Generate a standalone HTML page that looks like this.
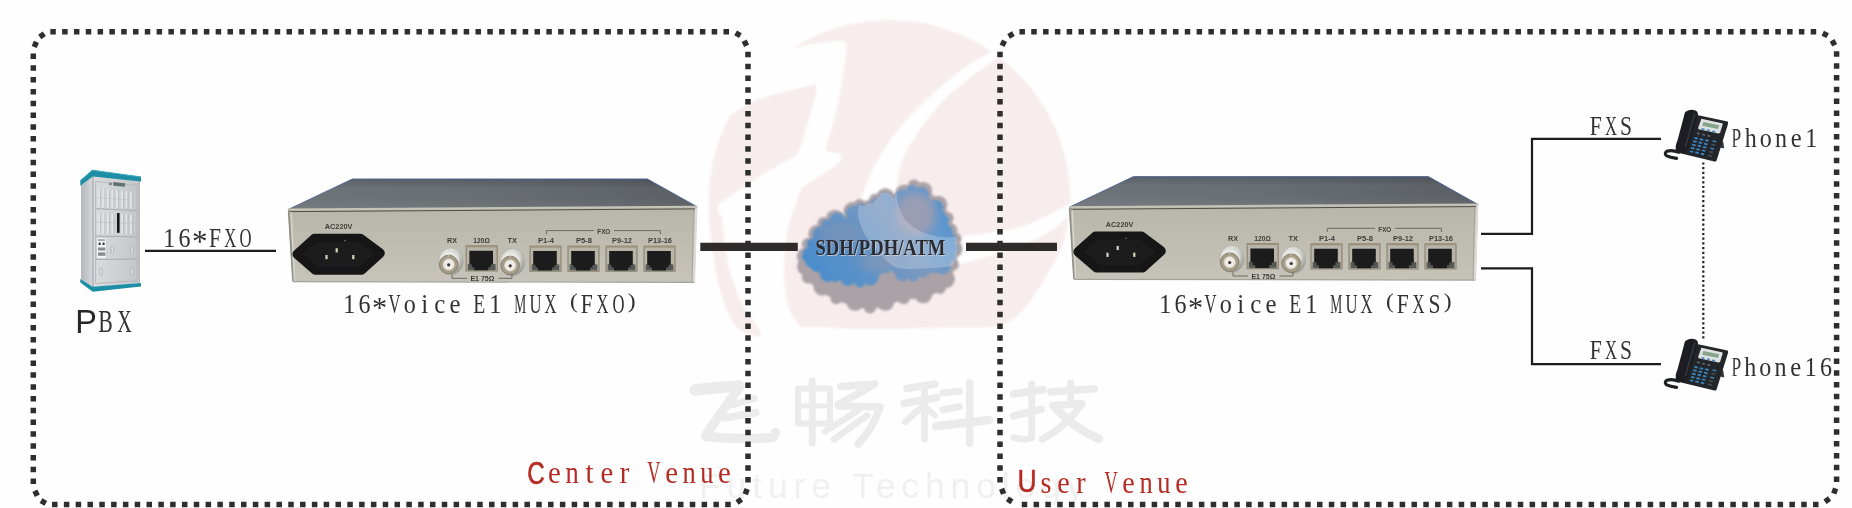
<!DOCTYPE html>
<html><head><meta charset="utf-8"><title>16*Voice E1 MUX</title>
<style>
html,body{margin:0;padding:0;background:#fefefe;overflow:hidden}
svg{display:block}
text{font-family:"Liberation Serif",serif}
</style></head><body>
<svg width="1852" height="508" viewBox="0 0 1852 508">
<rect width="1852" height="508" fill="#fefefe"/>
<defs><filter id="soft" x="-5%" y="-20%" width="110%" height="140%"><feGaussianBlur stdDeviation="0.35"/></filter><filter id="wmblur" x="-5%" y="-5%" width="110%" height="110%"><feGaussianBlur stdDeviation="1.0"/></filter><filter id="b08g" x="-5%" y="-10%" width="110%" height="120%"><feGaussianBlur stdDeviation="0.7"/></filter></defs>
<g filter="url(#wmblur)"><path d="M708.5 201A181 181 0 0 1 889.5 20A181 181 0 0 1 1070.5 201C1069.4 207.7 1068.0 228.5 1064.0 241.0C1060.0 253.5 1053.5 264.2 1046.4 276.0C1039.3 287.8 1029.8 303.3 1021.6 311.6C1013.4 319.9 1008.9 323.4 997.0 326.0C985.1 328.6 972.3 327.0 950.0 327.5C927.7 328.0 888.0 329.1 863.0 329.0C838.0 328.9 816.3 325.7 800.0 327.0C783.7 328.3 775.3 336.7 765.0 337.0C754.7 337.3 744.9 333.6 738.4 328.8C731.9 324.0 729.6 316.4 726.0 308.0C722.4 299.6 719.3 288.4 717.0 278.6C714.7 268.8 713.8 258.9 712.4 249.0C711.0 239.2 709.5 227.5 708.9 219.5C708.2 211.5 708.6 204.1 708.5 201.0Z" fill="#f8eded"/><path d="M793.0 48.0C800.0 46.6 813.9 43.7 820.0 43.0C826.1 42.3 842.1 39.3 845.0 41.6C847.9 43.9 845.7 56.4 845.0 63.0C844.3 69.6 840.5 90.4 839.0 98.0C837.5 105.6 833.6 121.9 832.0 128.0C830.4 134.1 824.5 147.0 825.5 150.0C826.5 153.0 839.1 152.5 840.7 154.0C842.3 155.5 841.8 160.2 839.0 163.0C836.2 165.8 821.3 175.1 817.0 178.0C812.7 180.9 804.3 185.6 802.0 188.0C799.7 190.4 799.1 194.6 797.5 199.0C795.9 203.4 790.1 219.6 788.6 225.4C787.1 231.2 785.5 242.8 785.0 249.0C784.5 255.2 783.8 271.7 784.2 278.6C784.6 285.5 786.7 302.3 788.6 308.0C790.5 313.7 798.7 323.8 800.4 327.3C802.1 330.8 807.1 336.8 803.0 338.0C798.9 339.2 770.1 339.1 765.0 338.0C759.9 336.9 761.8 333.0 759.0 328.8C756.2 324.6 744.4 307.9 741.3 302.0C738.2 296.1 734.1 283.0 732.5 278.6C730.9 274.2 729.0 269.2 728.0 264.0C727.0 258.8 724.3 239.4 723.6 234.0C722.9 228.6 722.7 220.6 722.0 218.0C721.3 215.4 718.4 213.4 718.0 212.0C717.6 210.6 718.6 207.2 719.0 206.0C719.4 204.8 716.2 205.8 721.6 202.0C727.0 198.2 756.2 178.6 765.0 173.0C773.8 167.4 792.2 159.2 797.0 154.0C801.8 148.8 804.2 133.5 806.0 128.0C807.8 122.5 811.3 111.6 812.5 106.6C813.7 101.6 819.0 86.8 816.0 85.0C813.0 83.2 793.6 89.7 786.6 91.4C779.6 93.2 763.4 97.0 756.3 100.0C749.2 103.0 731.9 114.8 726.0 117.4C720.1 120.0 706.7 125.0 706.0 122.0C705.3 119.0 713.7 99.8 720.0 92.0C726.3 84.2 751.5 60.1 760.0 55.0C768.5 49.9 786.0 49.4 793.0 48.0Z" fill="#fefefe"/><path d="M1001.0 47.0C994.0 50.5 976.9 59.0 965.6 67.0C954.4 75.0 936.6 90.0 926.0 100.0C915.4 110.0 902.4 124.2 894.7 134.0C887.1 143.8 879.8 156.2 875.0 165.0C870.2 173.8 865.5 185.7 863.0 193.0C860.5 200.3 857.7 207.7 858.0 214.0C858.3 220.3 861.9 229.2 865.0 235.0C868.1 240.8 874.2 247.8 879.0 252.7C883.8 257.6 889.8 265.0 896.7 267.4C903.6 269.8 916.1 268.9 925.0 268.5C933.9 268.1 942.3 268.1 955.7 265.0C969.1 261.9 1001.0 252.7 1014.6 248.0C1028.2 243.3 1038.2 238.5 1046.4 233.7C1054.6 228.9 1063.8 220.5 1069.4 216.0C1075.0 211.5 1083.8 205.9 1084.0 204.0C1084.2 202.1 1080.4 200.2 1071.0 203.6C1061.6 207.0 1038.9 221.7 1021.6 226.7C1004.3 231.7 970.0 236.0 955.7 237.0C941.4 238.0 933.5 236.1 926.0 233.5C918.5 230.9 909.9 225.5 905.5 220.0C901.1 214.5 897.4 204.8 896.7 196.6C896.0 188.3 897.9 173.8 900.6 165.0C903.3 156.2 908.2 147.4 914.4 138.0C920.6 128.6 933.1 111.5 942.0 102.0C950.9 92.5 964.0 82.3 973.5 75.0C983.0 67.7 999.2 57.6 1005.0 53.0C1010.8 48.4 1012.6 44.9 1012.0 44.0C1011.4 43.1 1008.0 43.5 1001.0 47.0Z" fill="#fefefe"/></g>
<text x="699" y="497.6" font-size="35.6" letter-spacing="5.85" style="font-family:'Liberation Sans',sans-serif" fill="#f0f0f0" filter="url(#soft)">Future Technology</text>
<g fill="none" stroke="#ebebeb" stroke-linecap="round" stroke-linejoin="round" filter="url(#b08g)"><path d="M695 390Q716 387.5 739 386" stroke-width="11.5"/><path d="M739 388Q722 411 706 435" stroke-width="9.5"/><path d="M706 436.5Q740 440 773 437.5L775.5 432.5" stroke-width="9.5"/><path d="M732 405L754 398.5" stroke-width="7"/><path d="M725 418L756 412.5" stroke-width="7.5"/><path d="M812.3 381V443" stroke-width="7"/><path d="M798 388.5H830V423.5H798Z" stroke-width="6"/><path d="M798 406H830" stroke-width="5"/><path d="M841 386.5L875 384Q858 394 838 404.5" stroke-width="7.5"/><path d="M839 406L880 407Q873 429 858 444" stroke-width="7.5"/><path d="M858 410.5L825 431.5" stroke-width="6.5"/><path d="M867 415.5L834 439.5" stroke-width="6.5"/><path d="M935 384L907 388.5" stroke-width="7.5"/><path d="M904 403.5L937 397.5" stroke-width="7.5"/><path d="M924.5 389V439" stroke-width="7"/><path d="M923 406L905 422" stroke-width="6.5"/><path d="M927 408.5L935 415.5" stroke-width="6"/><path d="M943 393L959.5 391.3" stroke-width="7"/><path d="M943 409.8L959.5 406.6" stroke-width="7"/><path d="M936 426.3L989 420" stroke-width="8.5"/><path d="M969.7 383V443.5" stroke-width="7.5"/><path d="M1013.5 394L1043 389.8" stroke-width="7.5"/><path d="M1031.7 384V437.5Q1026 441 1014 437.5" stroke-width="7"/><path d="M1013.5 415.8L1041 409.3" stroke-width="7.5"/><path d="M1051 392L1094 388.7" stroke-width="7.5"/><path d="M1070.7 383V399.5" stroke-width="7"/><path d="M1053 405.5L1082 403.6Q1066 427 1042.5 439" stroke-width="7.5"/><path d="M1056 408.5Q1074 428 1099 439" stroke-width="8.5"/></g>
<defs>
<linearGradient id="muxTop" x1="0" y1="0" x2="1" y2="0">
 <stop offset="0" stop-color="#6f757a"/><stop offset="0.5" stop-color="#686e73"/><stop offset="1" stop-color="#5b6065"/>
</linearGradient>
<linearGradient id="muxTopV" x1="0" y1="0" x2="0" y2="1">
 <stop offset="0" stop-color="#1b2a4a" stop-opacity="0.22"/><stop offset="0.3" stop-color="#000" stop-opacity="0"/><stop offset="1" stop-color="#fff" stop-opacity="0.06"/>
</linearGradient>
<linearGradient id="muxFront" x1="0" y1="0" x2="0" y2="1">
 <stop offset="0" stop-color="#b8b6aa"/><stop offset="0.5" stop-color="#bfbdb2"/><stop offset="1" stop-color="#c6c4ba"/>
</linearGradient>
<radialGradient id="bnc" cx="0.4" cy="0.35" r="0.7">
 <stop offset="0" stop-color="#f4f4f2"/><stop offset="0.6" stop-color="#cfcfcb"/><stop offset="1" stop-color="#8e8e88"/>
</radialGradient>
<linearGradient id="rjf" x1="0" y1="0" x2="0" y2="1">
 <stop offset="0" stop-color="#b2ab9a"/><stop offset="1" stop-color="#c9c3b4"/>
</linearGradient>
<filter id="b05" x="-10%" y="-10%" width="120%" height="120%"><feGaussianBlur stdDeviation="0.5"/></filter>
<filter id="b08" x="-10%" y="-10%" width="120%" height="120%"><feGaussianBlur stdDeviation="0.8"/></filter>
<filter id="b2" x="-20%" y="-20%" width="140%" height="140%"><feGaussianBlur stdDeviation="2"/></filter>
</defs>
<g transform="translate(0,0)" filter="url(#b05)"><path d="M352.4 178.9H647.4L697.2 206.8L288 209.6Z" fill="url(#muxTop)"/><path d="M352.4 178.9H647.4L697.2 206.8L288 209.6Z" fill="url(#muxTopV)"/><path d="M288 209.6L352.4 178.9H647.4L697.2 206.8" fill="none" stroke="#3c5590" stroke-width="1" opacity="0.7"/><path d="M288 209.2L697.2 206.4L694.6 282.2L292.6 281.4Z" fill="url(#muxFront)"/><path d="M288 209.5L697.2 206.7" stroke="#c6c4b8" stroke-width="2.0" fill="none"/><path d="M290 211.6L696 208.9" stroke="#4e4d45" stroke-width="1" fill="none"/><path d="M288.6 210L293 281.4" stroke="#8f8e86" stroke-width="1.6" fill="none"/><path d="M291.2 212L294.6 281" stroke="#d8d6cc" stroke-width="1.4" fill="none"/><path d="M696.2 208L694 282" stroke="#dddbd2" stroke-width="2.2" fill="none"/><path d="M693.6 210L692 281" stroke="#a9a79e" stroke-width="1" fill="none"/><path d="M293 281.6L694.4 282.4" stroke="#a3a198" stroke-width="1.2" fill="none"/><path d="M297.2 254.2L314.5 238.6H360.5L380 253.2L361.5 270H315.5Z" fill="#161718" stroke="#161718" stroke-width="9.6" stroke-linejoin="round"/><path d="M303 254L318 241.5H358L374.5 253.4L358 267.5H319Z" fill="#1b1c1e"/><rect x="335.6" y="248.2" width="2.2" height="4.2" fill="#d8d4c4"/><rect x="325.4" y="255" width="2.2" height="4.2" fill="#d8d4c4"/><rect x="352.2" y="255" width="2.2" height="4.2" fill="#d8d4c4"/><circle cx="345" cy="240.6" r="0.8" fill="#8a7a60"/><text x="338.6" y="229.46" text-anchor="middle" font-size="7.4" font-weight="bold" style="font-family:'Liberation Sans',sans-serif" fill="#3c3c3a" textLength="27.5" lengthAdjust="spacingAndGlyphs">AC220V</text><ellipse cx="450.9" cy="261.3" rx="12.4" ry="13.6" fill="url(#bnc)" stroke="#b4b4ae" stroke-width="0.8"/><ellipse cx="449.3" cy="259.5" rx="9.5" ry="7.5" fill="#e9e9e6" opacity="0.7"/><circle cx="448.7" cy="264.5" r="9.3" fill="#a69d89" stroke="#857c6a" stroke-width="1"/><circle cx="448.7" cy="264.5" r="5.7" fill="#eeeae6" stroke="#cfc6b8" stroke-width="0.8"/><circle cx="448.7" cy="264.8" r="1.6" fill="#3b3131"/><circle cx="448.7" cy="255.7" r="1.1" fill="#bdb5a3"/><rect x="466.2" y="245.9" width="31" height="25" fill="#b9b4a8" stroke="#8f8672" stroke-width="1.2"/><path d="M466.2 246.5H497.2" stroke="#9c927c" stroke-width="1.6"/><rect x="467.8" y="264.1" width="27.8" height="6" fill="#565955"/><path d="M469.4 250.8H493.0V264.6H490.59999999999997V267.3H488.2V270.3H474.2V267.3H471.8V264.6H469.4Z" fill="#1b1f1c"/><ellipse cx="512.4" cy="262.3" rx="12.4" ry="13.6" fill="url(#bnc)" stroke="#b4b4ae" stroke-width="0.8"/><ellipse cx="510.8" cy="260.5" rx="9.5" ry="7.5" fill="#e9e9e6" opacity="0.7"/><circle cx="510.2" cy="265.5" r="9.3" fill="#a69d89" stroke="#857c6a" stroke-width="1"/><circle cx="510.2" cy="265.5" r="5.7" fill="#eeeae6" stroke="#cfc6b8" stroke-width="0.8"/><circle cx="510.2" cy="265.8" r="1.6" fill="#3b3131"/><circle cx="510.2" cy="256.7" r="1.1" fill="#bdb5a3"/><rect x="530" y="246.2" width="31" height="25" fill="#b9b4a8" stroke="#8f8672" stroke-width="1.2"/><path d="M530 246.79999999999998H561" stroke="#9c927c" stroke-width="1.6"/><rect x="531.6" y="264.4" width="27.8" height="6" fill="#565955"/><path d="M533.2 251.1H556.8V264.9H554.4V267.59999999999997H552V270.59999999999997H538V267.59999999999997H535.6V264.9H533.2Z" fill="#1b1f1c"/><rect x="568" y="246.2" width="31" height="25" fill="#b9b4a8" stroke="#8f8672" stroke-width="1.2"/><path d="M568 246.79999999999998H599" stroke="#9c927c" stroke-width="1.6"/><rect x="569.6" y="264.4" width="27.8" height="6" fill="#565955"/><path d="M571.2 251.1H594.8V264.9H592.4V267.59999999999997H590V270.59999999999997H576V267.59999999999997H573.6V264.9H571.2Z" fill="#1b1f1c"/><rect x="606" y="246.2" width="31" height="25" fill="#b9b4a8" stroke="#8f8672" stroke-width="1.2"/><path d="M606 246.79999999999998H637" stroke="#9c927c" stroke-width="1.6"/><rect x="607.6" y="264.4" width="27.8" height="6" fill="#565955"/><path d="M609.2 251.1H632.8V264.9H630.4V267.59999999999997H628V270.59999999999997H614V267.59999999999997H611.6V264.9H609.2Z" fill="#1b1f1c"/><rect x="644" y="246.2" width="31" height="25" fill="#b9b4a8" stroke="#8f8672" stroke-width="1.2"/><path d="M644 246.79999999999998H675" stroke="#9c927c" stroke-width="1.6"/><rect x="645.6" y="264.4" width="27.8" height="6" fill="#565955"/><path d="M647.2 251.1H670.8V264.9H668.4V267.59999999999997H666V270.59999999999997H652V267.59999999999997H649.6V264.9H647.2Z" fill="#1b1f1c"/><text x="452" y="243.05" text-anchor="middle" font-size="6.8" font-weight="bold" style="font-family:'Liberation Sans',sans-serif" fill="#3c3c3a" textLength="10" lengthAdjust="spacingAndGlyphs">RX</text><text x="481.5" y="243.05" text-anchor="middle" font-size="6.8" font-weight="bold" style="font-family:'Liberation Sans',sans-serif" fill="#3c3c3a" textLength="16.5" lengthAdjust="spacingAndGlyphs">120Ω</text><text x="512.3" y="243.05" text-anchor="middle" font-size="6.8" font-weight="bold" style="font-family:'Liberation Sans',sans-serif" fill="#3c3c3a" textLength="9.5" lengthAdjust="spacingAndGlyphs">TX</text><text x="546" y="243.45" text-anchor="middle" font-size="6.8" font-weight="bold" style="font-family:'Liberation Sans',sans-serif" fill="#3c3c3a" textLength="16" lengthAdjust="spacingAndGlyphs">P1-4</text><text x="584" y="243.45" text-anchor="middle" font-size="6.8" font-weight="bold" style="font-family:'Liberation Sans',sans-serif" fill="#3c3c3a" textLength="16" lengthAdjust="spacingAndGlyphs">P5-8</text><text x="622" y="243.45" text-anchor="middle" font-size="6.8" font-weight="bold" style="font-family:'Liberation Sans',sans-serif" fill="#3c3c3a" textLength="20" lengthAdjust="spacingAndGlyphs">P9-12</text><text x="660" y="243.45" text-anchor="middle" font-size="6.8" font-weight="bold" style="font-family:'Liberation Sans',sans-serif" fill="#3c3c3a" textLength="24" lengthAdjust="spacingAndGlyphs">P13-16</text><text x="603.8" y="233.85" text-anchor="middle" font-size="6.8" font-weight="bold" style="font-family:'Liberation Sans',sans-serif" fill="#3c3c3a" textLength="13" lengthAdjust="spacingAndGlyphs">FXO</text><path d="M546.3 234.3V230.6H594M614 230.6H660.4V234.3" fill="none" stroke="#55554f" stroke-width="0.8"/><text x="482.4" y="281.15" text-anchor="middle" font-size="6.8" font-weight="bold" style="font-family:'Liberation Sans',sans-serif" fill="#3c3c3a" textLength="24" lengthAdjust="spacingAndGlyphs">E1 75Ω</text><path d="M452 274.5V278.3H467M498.5 278.3H512V274.5" fill="none" stroke="#55554f" stroke-width="0.8"/></g>
<g transform="translate(781,-2.3)" filter="url(#b05)"><path d="M352.4 178.9H647.4L697.2 206.8L288 209.6Z" fill="url(#muxTop)"/><path d="M352.4 178.9H647.4L697.2 206.8L288 209.6Z" fill="url(#muxTopV)"/><path d="M288 209.6L352.4 178.9H647.4L697.2 206.8" fill="none" stroke="#3c5590" stroke-width="1" opacity="0.7"/><path d="M288 209.2L697.2 206.4L694.6 282.2L292.6 281.4Z" fill="url(#muxFront)"/><path d="M288 209.5L697.2 206.7" stroke="#c6c4b8" stroke-width="2.0" fill="none"/><path d="M290 211.6L696 208.9" stroke="#4e4d45" stroke-width="1" fill="none"/><path d="M288.6 210L293 281.4" stroke="#8f8e86" stroke-width="1.6" fill="none"/><path d="M291.2 212L294.6 281" stroke="#d8d6cc" stroke-width="1.4" fill="none"/><path d="M696.2 208L694 282" stroke="#dddbd2" stroke-width="2.2" fill="none"/><path d="M693.6 210L692 281" stroke="#a9a79e" stroke-width="1" fill="none"/><path d="M293 281.6L694.4 282.4" stroke="#a3a198" stroke-width="1.2" fill="none"/><path d="M297.2 254.2L314.5 238.6H360.5L380 253.2L361.5 270H315.5Z" fill="#161718" stroke="#161718" stroke-width="9.6" stroke-linejoin="round"/><path d="M303 254L318 241.5H358L374.5 253.4L358 267.5H319Z" fill="#1b1c1e"/><rect x="335.6" y="248.2" width="2.2" height="4.2" fill="#d8d4c4"/><rect x="325.4" y="255" width="2.2" height="4.2" fill="#d8d4c4"/><rect x="352.2" y="255" width="2.2" height="4.2" fill="#d8d4c4"/><circle cx="345" cy="240.6" r="0.8" fill="#8a7a60"/><text x="338.6" y="229.46" text-anchor="middle" font-size="7.4" font-weight="bold" style="font-family:'Liberation Sans',sans-serif" fill="#3c3c3a" textLength="27.5" lengthAdjust="spacingAndGlyphs">AC220V</text><ellipse cx="450.9" cy="261.3" rx="12.4" ry="13.6" fill="url(#bnc)" stroke="#b4b4ae" stroke-width="0.8"/><ellipse cx="449.3" cy="259.5" rx="9.5" ry="7.5" fill="#e9e9e6" opacity="0.7"/><circle cx="448.7" cy="264.5" r="9.3" fill="#a69d89" stroke="#857c6a" stroke-width="1"/><circle cx="448.7" cy="264.5" r="5.7" fill="#eeeae6" stroke="#cfc6b8" stroke-width="0.8"/><circle cx="448.7" cy="264.8" r="1.6" fill="#3b3131"/><circle cx="448.7" cy="255.7" r="1.1" fill="#bdb5a3"/><rect x="466.2" y="245.9" width="31" height="25" fill="#b9b4a8" stroke="#8f8672" stroke-width="1.2"/><path d="M466.2 246.5H497.2" stroke="#9c927c" stroke-width="1.6"/><rect x="467.8" y="264.1" width="27.8" height="6" fill="#565955"/><path d="M469.4 250.8H493.0V264.6H490.59999999999997V267.3H488.2V270.3H474.2V267.3H471.8V264.6H469.4Z" fill="#1b1f1c"/><ellipse cx="512.4" cy="262.3" rx="12.4" ry="13.6" fill="url(#bnc)" stroke="#b4b4ae" stroke-width="0.8"/><ellipse cx="510.8" cy="260.5" rx="9.5" ry="7.5" fill="#e9e9e6" opacity="0.7"/><circle cx="510.2" cy="265.5" r="9.3" fill="#a69d89" stroke="#857c6a" stroke-width="1"/><circle cx="510.2" cy="265.5" r="5.7" fill="#eeeae6" stroke="#cfc6b8" stroke-width="0.8"/><circle cx="510.2" cy="265.8" r="1.6" fill="#3b3131"/><circle cx="510.2" cy="256.7" r="1.1" fill="#bdb5a3"/><rect x="530" y="246.2" width="31" height="25" fill="#b9b4a8" stroke="#8f8672" stroke-width="1.2"/><path d="M530 246.79999999999998H561" stroke="#9c927c" stroke-width="1.6"/><rect x="531.6" y="264.4" width="27.8" height="6" fill="#565955"/><path d="M533.2 251.1H556.8V264.9H554.4V267.59999999999997H552V270.59999999999997H538V267.59999999999997H535.6V264.9H533.2Z" fill="#1b1f1c"/><rect x="568" y="246.2" width="31" height="25" fill="#b9b4a8" stroke="#8f8672" stroke-width="1.2"/><path d="M568 246.79999999999998H599" stroke="#9c927c" stroke-width="1.6"/><rect x="569.6" y="264.4" width="27.8" height="6" fill="#565955"/><path d="M571.2 251.1H594.8V264.9H592.4V267.59999999999997H590V270.59999999999997H576V267.59999999999997H573.6V264.9H571.2Z" fill="#1b1f1c"/><rect x="606" y="246.2" width="31" height="25" fill="#b9b4a8" stroke="#8f8672" stroke-width="1.2"/><path d="M606 246.79999999999998H637" stroke="#9c927c" stroke-width="1.6"/><rect x="607.6" y="264.4" width="27.8" height="6" fill="#565955"/><path d="M609.2 251.1H632.8V264.9H630.4V267.59999999999997H628V270.59999999999997H614V267.59999999999997H611.6V264.9H609.2Z" fill="#1b1f1c"/><rect x="644" y="246.2" width="31" height="25" fill="#b9b4a8" stroke="#8f8672" stroke-width="1.2"/><path d="M644 246.79999999999998H675" stroke="#9c927c" stroke-width="1.6"/><rect x="645.6" y="264.4" width="27.8" height="6" fill="#565955"/><path d="M647.2 251.1H670.8V264.9H668.4V267.59999999999997H666V270.59999999999997H652V267.59999999999997H649.6V264.9H647.2Z" fill="#1b1f1c"/><text x="452" y="243.05" text-anchor="middle" font-size="6.8" font-weight="bold" style="font-family:'Liberation Sans',sans-serif" fill="#3c3c3a" textLength="10" lengthAdjust="spacingAndGlyphs">RX</text><text x="481.5" y="243.05" text-anchor="middle" font-size="6.8" font-weight="bold" style="font-family:'Liberation Sans',sans-serif" fill="#3c3c3a" textLength="16.5" lengthAdjust="spacingAndGlyphs">120Ω</text><text x="512.3" y="243.05" text-anchor="middle" font-size="6.8" font-weight="bold" style="font-family:'Liberation Sans',sans-serif" fill="#3c3c3a" textLength="9.5" lengthAdjust="spacingAndGlyphs">TX</text><text x="546" y="243.45" text-anchor="middle" font-size="6.8" font-weight="bold" style="font-family:'Liberation Sans',sans-serif" fill="#3c3c3a" textLength="16" lengthAdjust="spacingAndGlyphs">P1-4</text><text x="584" y="243.45" text-anchor="middle" font-size="6.8" font-weight="bold" style="font-family:'Liberation Sans',sans-serif" fill="#3c3c3a" textLength="16" lengthAdjust="spacingAndGlyphs">P5-8</text><text x="622" y="243.45" text-anchor="middle" font-size="6.8" font-weight="bold" style="font-family:'Liberation Sans',sans-serif" fill="#3c3c3a" textLength="20" lengthAdjust="spacingAndGlyphs">P9-12</text><text x="660" y="243.45" text-anchor="middle" font-size="6.8" font-weight="bold" style="font-family:'Liberation Sans',sans-serif" fill="#3c3c3a" textLength="24" lengthAdjust="spacingAndGlyphs">P13-16</text><text x="603.8" y="233.85" text-anchor="middle" font-size="6.8" font-weight="bold" style="font-family:'Liberation Sans',sans-serif" fill="#3c3c3a" textLength="13" lengthAdjust="spacingAndGlyphs">FXO</text><path d="M546.3 234.3V230.6H594M614 230.6H660.4V234.3" fill="none" stroke="#55554f" stroke-width="0.8"/><text x="482.4" y="281.15" text-anchor="middle" font-size="6.8" font-weight="bold" style="font-family:'Liberation Sans',sans-serif" fill="#3c3c3a" textLength="24" lengthAdjust="spacingAndGlyphs">E1 75Ω</text><path d="M452 274.5V278.3H467M498.5 278.3H512V274.5" fill="none" stroke="#55554f" stroke-width="0.8"/></g>
<g filter="url(#b05)"><defs><linearGradient id="pbxSide" x1="0" y1="0" x2="1" y2="0"><stop offset="0" stop-color="#b4b8bc"/><stop offset="1" stop-color="#d6d8da"/></linearGradient>
    <linearGradient id="pbxFront" x1="0" y1="0" x2="1" y2="0"><stop offset="0" stop-color="#d9dbdd"/><stop offset="0.5" stop-color="#cfd1d3"/><stop offset="1" stop-color="#c3c6c8"/></linearGradient></defs><path d="M81 184L93 175.5V287L81 279.5Z" fill="url(#pbxSide)"/><path d="M93 175.5L139.6 180.8V283.2L93 287Z" fill="url(#pbxFront)"/><path d="M93 175.5V287" stroke="#9da1a5" stroke-width="1"/><path d="M139.2 181V283" stroke="#a9acb0" stroke-width="1"/><path d="M95.6 181.5L137 185.6V280.6L95.6 283.6Z" fill="none" stroke="#b3b6ba" stroke-width="0.9"/><path d="M95.6 208.6L137 210.6" stroke="#a9acb0" stroke-width="1"/><path d="M95.6 236L137 237" stroke="#a9acb0" stroke-width="1"/><path d="M95.6 259.5L137 259" stroke="#a9acb0" stroke-width="1"/><path d="M99 189.0V206.8M99 213.2V233.7" stroke="#e3e5e7" stroke-width="1.8"/><path d="M100.5 189.0V206.8M100.5 213.2V233.7" stroke="#b4b7bb" stroke-width="0.7"/><path d="M103.5 189.4V207.0M103.5 213.4V233.8" stroke="#e3e5e7" stroke-width="1.8"/><path d="M105.0 189.4V207.0M105.0 213.4V233.8" stroke="#b4b7bb" stroke-width="0.7"/><path d="M108 189.8V207.2M108 213.7V233.9" stroke="#e3e5e7" stroke-width="1.8"/><path d="M109.5 189.8V207.2M109.5 213.7V233.9" stroke="#b4b7bb" stroke-width="0.7"/><path d="M112.5 190.2V207.5M112.5 213.9V233.9" stroke="#e3e5e7" stroke-width="1.8"/><path d="M114.0 190.2V207.5M114.0 213.9V233.9" stroke="#b4b7bb" stroke-width="0.7"/><path d="M122 191.0V207.9M122 214.3V234.1" stroke="#e3e5e7" stroke-width="1.8"/><path d="M123.5 191.0V207.9M123.5 214.3V234.1" stroke="#b4b7bb" stroke-width="0.7"/><path d="M126.5 191.4V208.2M126.5 214.6V234.2" stroke="#e3e5e7" stroke-width="1.8"/><path d="M128.0 191.4V208.2M128.0 214.6V234.2" stroke="#b4b7bb" stroke-width="0.7"/><path d="M131 191.8V208.4M131 214.8V234.3" stroke="#e3e5e7" stroke-width="1.8"/><path d="M132.5 191.8V208.4M132.5 214.8V234.3" stroke="#b4b7bb" stroke-width="0.7"/><path d="M117 189.8V207.4" stroke="#e3e5e7" stroke-width="1.8"/><path d="M118.5 189.8V207.4" stroke="#b4b7bb" stroke-width="0.7"/><path d="M97 197.5L136 200.5" stroke="#c3c6c9" stroke-width="0.8"/><path d="M97 222L136 223.6" stroke="#c3c6c9" stroke-width="0.8"/><rect x="113.4" y="182.6" width="11.6" height="3.6" fill="#5f7372" transform="rotate(5 119 184)"/><rect x="109" y="182.6" width="3" height="2.6" fill="#7d8b8c" transform="rotate(5 110 184)"/><rect x="117" y="213" width="2.6" height="19.8" fill="#161616"/><rect x="96.6" y="237.6" width="10" height="21" fill="#f2f3f3" stroke="#b5b8bb" stroke-width="0.5"/><path d="M98 240H105" stroke="#555" stroke-width="0.9"/><rect x="98.6" y="242.6" width="2" height="2.4" fill="#333"/><rect x="102.6" y="242.6" width="2" height="2.4" fill="#333"/><rect x="98" y="247.5" width="7.4" height="3" fill="#8a8d90"/><rect x="98" y="252.4" width="7.4" height="3.4" fill="#8a8d90"/><rect x="111" y="246" width="2.6" height="7.5" rx="1.2" fill="#dfe1e2" stroke="#a4a8ab" stroke-width="0.7"/><rect x="131" y="246.5" width="2.6" height="7.5" rx="1.2" fill="#dfe1e2" stroke="#a4a8ab" stroke-width="0.7"/><rect x="99.8" y="268" width="2.6" height="7.5" rx="1.2" fill="#dfe1e2" stroke="#a4a8ab" stroke-width="0.7"/><rect x="131" y="267.5" width="2.6" height="7.5" rx="1.2" fill="#dfe1e2" stroke="#a4a8ab" stroke-width="0.7"/><path d="M80.3 180.8L92.2 170.2L141 176.9V181.6L92.8 176.4L80.3 185.8Z" fill="#1f8ea5"/><path d="M80.3 180.8L92.2 170.2L141 176.9" fill="none" stroke="#3aa6bb" stroke-width="1"/><path d="M80.3 279L92.7 286.8L141 282.9V286.6L92.7 291.8L80.3 282.4Z" fill="#1f8ea5"/></g>
<defs>
    <linearGradient id="cldB" gradientUnits="userSpaceOnUse" x1="805" y1="290" x2="955" y2="190">
      <stop offset="0" stop-color="#438bcd"/><stop offset="0.35" stop-color="#5f93c8"/><stop offset="0.6" stop-color="#7b99bf"/><stop offset="0.8" stop-color="#6499cd"/><stop offset="1" stop-color="#448dcf"/>
    </linearGradient>
    <clipPath id="cldClip"><path d="M802.6 256.6C802.8 253.6 804.8 247.7 806.8 243.9C808.7 240.1 812.0 237.1 814.6 233.7C817.2 230.3 819.4 225.9 822.5 223.4C825.6 220.8 829.1 218.7 833.0 218.2C837.0 217.8 843.1 222.0 846.2 220.8C849.2 219.5 849.2 213.1 851.4 210.5C853.5 208.0 856.3 205.8 859.4 205.4C862.5 205.0 867.3 208.9 869.9 208.0C872.5 207.2 872.5 202.2 875.1 200.3C877.8 198.4 881.7 196.7 885.6 196.5C889.6 196.3 895.5 199.7 898.8 199.1C902.1 198.4 902.8 194.8 905.4 192.7C908.0 190.5 911.3 186.7 914.6 186.2C917.8 185.8 922.4 187.7 925.1 190.1C927.7 192.4 927.7 197.9 930.3 200.3C933.0 202.6 937.9 201.2 940.9 204.2C944.0 207.2 947.0 213.8 948.8 218.2C950.5 222.7 950.1 227.6 951.4 231.0C952.8 234.4 955.8 235.8 956.7 238.8C957.6 241.8 956.8 245.9 956.7 249.0C956.6 252.2 957.2 254.3 956.0 257.6C954.8 260.9 952.3 266.6 949.3 268.7C946.3 270.8 941.7 269.4 938.0 270.0C934.3 270.6 930.8 270.9 927.2 272.4C923.6 273.9 919.9 278.2 916.2 278.8C912.5 279.4 908.6 277.6 905.2 276.0C901.8 274.4 899.4 270.9 896.0 269.5C892.6 268.1 888.3 266.8 885.0 267.5C881.7 268.2 878.6 271.8 876.0 274.0C873.4 276.2 872.3 279.1 869.4 281.0C866.5 282.9 862.5 285.3 858.4 285.4C854.3 285.5 849.0 282.4 844.6 281.4C840.2 280.4 835.7 280.2 832.0 279.5C828.3 278.8 825.9 278.8 822.5 277.0C819.1 275.2 814.2 271.2 811.5 268.7C808.8 266.2 807.5 264.0 806.0 262.0C804.5 260.0 802.5 259.7 802.6 256.6Z"/><circle cx="810.0" cy="255.4" r="8"/><circle cx="820.8" cy="234.7" r="8"/><circle cx="837.5" cy="220.7" r="8"/><circle cx="854.1" cy="213.7" r="8"/><circle cx="870.8" cy="211.4" r="8"/><circle cx="885.1" cy="201.0" r="8"/><circle cx="903.0" cy="197.5" r="8"/><circle cx="920.8" cy="195.2" r="8"/><circle cx="935.1" cy="208.0" r="8"/><circle cx="944.6" cy="232.2" r="8"/><circle cx="949.4" cy="248.5" r="8"/><circle cx="942.7" cy="266.4" r="8"/><circle cx="922.7" cy="269.7" r="8"/><circle cx="902.8" cy="273.0" r="8"/><circle cx="884.5" cy="265.3" r="8"/><circle cx="870.4" cy="277.5" r="8"/><circle cx="848.0" cy="277.8" r="8"/><circle cx="828.0" cy="273.9" r="8"/><circle cx="813.0" cy="260.3" r="8"/></clipPath>
    <filter id="b12" x="-10%" y="-10%" width="120%" height="120%"><feGaussianBlur stdDeviation="1.0"/></filter>
    <filter id="b4" x="-20%" y="-20%" width="140%" height="140%"><feGaussianBlur stdDeviation="5"/></filter>
    </defs><g fill="#aaa2a7" filter="url(#b12)"><path d="M799.0 257.6C799.7 253.5 801.2 248.0 803.3 243.9C805.4 239.8 808.8 236.6 811.5 232.9C814.2 229.2 816.6 224.6 819.8 221.8C823.0 219.0 826.7 216.8 830.8 216.3C834.9 215.8 841.4 220.4 844.6 219.0C847.8 217.6 847.7 210.8 850.0 208.0C852.3 205.2 855.2 202.9 858.4 202.5C861.6 202.1 866.6 206.2 869.4 205.3C872.1 204.4 872.1 199.1 874.9 197.0C877.6 194.9 881.8 193.1 885.9 192.9C890.0 192.7 896.2 196.4 899.7 195.7C903.2 195.0 903.9 191.1 906.6 188.8C909.4 186.5 912.8 182.4 916.2 181.9C919.6 181.4 924.5 183.5 927.2 186.0C930.0 188.5 929.9 194.5 932.7 197.0C935.5 199.5 940.6 198.0 943.8 201.2C947.0 204.4 950.2 211.5 952.0 216.3C953.8 221.1 953.4 226.3 954.8 230.0C956.2 233.7 959.4 235.2 960.3 238.4C961.2 241.6 960.8 244.8 960.3 249.4C959.8 254.0 958.9 260.4 957.5 265.9C956.1 271.4 954.3 278.3 952.0 282.4C949.7 286.5 947.9 287.9 943.8 290.7C939.7 293.5 933.6 297.2 927.2 299.0C920.8 300.8 912.1 300.3 905.2 301.7C898.3 303.1 891.9 305.6 885.9 307.2C879.9 308.8 874.9 311.4 869.4 311.4C863.9 311.4 858.9 308.8 852.9 307.2C846.9 305.6 839.6 304.4 833.6 301.7C827.6 298.9 822.0 294.4 817.0 290.7C812.0 287.0 806.3 283.4 803.3 279.7C800.3 276.0 799.8 272.4 799.1 268.7C798.4 265.0 798.3 261.7 799.0 257.6Z" transform="translate(880 244) scale(0.97) translate(-880 -244)"/><circle cx="805.9" cy="256.4" r="9"/><circle cx="817.3" cy="233.8" r="9"/><circle cx="835.0" cy="218.7" r="9"/><circle cx="852.5" cy="211.1" r="9"/><circle cx="870.3" cy="208.6" r="9"/><circle cx="885.4" cy="197.2" r="9"/><circle cx="904.3" cy="193.5" r="9"/><circle cx="923.2" cy="190.9" r="9"/><circle cx="938.4" cy="204.8" r="9"/><circle cx="948.4" cy="231.2" r="9"/><circle cx="953.5" cy="248.9" r="9"/><circle cx="945.9" cy="279.1" r="9"/><circle cx="923.2" cy="294.3" r="9"/><circle cx="885.4" cy="301.8" r="9"/><circle cx="855.2" cy="301.8" r="9"/><circle cx="822.4" cy="286.7" r="9"/><circle cx="806.0" cy="266.6" r="9"/><circle cx="807.9" cy="243.9" r="6"/><circle cx="823.4" cy="223.1" r="6"/><circle cx="846.7" cy="220.5" r="6"/><circle cx="859.7" cy="205.0" r="6"/><circle cx="875.2" cy="199.8" r="6"/><circle cx="898.5" cy="198.6" r="6"/><circle cx="914.0" cy="185.6" r="6"/><circle cx="929.5" cy="199.8" r="6"/><circle cx="947.7" cy="218.0" r="6"/><circle cx="955.5" cy="238.7" r="6"/><circle cx="952.9" cy="264.6" r="6"/><circle cx="940.0" cy="287.9" r="6"/><circle cx="903.7" cy="298.2" r="6"/><circle cx="870.0" cy="307.4" r="6"/><circle cx="836.4" cy="298.2" r="6"/><circle cx="807.9" cy="277.6" r="6"/></g><g fill="url(#cldB)" filter="url(#b12)"><path d="M802.6 256.6C802.8 253.6 804.8 247.7 806.8 243.9C808.7 240.1 812.0 237.1 814.6 233.7C817.2 230.3 819.4 225.9 822.5 223.4C825.6 220.8 829.1 218.7 833.0 218.2C837.0 217.8 843.1 222.0 846.2 220.8C849.2 219.5 849.2 213.1 851.4 210.5C853.5 208.0 856.3 205.8 859.4 205.4C862.5 205.0 867.3 208.9 869.9 208.0C872.5 207.2 872.5 202.2 875.1 200.3C877.8 198.4 881.7 196.7 885.6 196.5C889.6 196.3 895.5 199.7 898.8 199.1C902.1 198.4 902.8 194.8 905.4 192.7C908.0 190.5 911.3 186.7 914.6 186.2C917.8 185.8 922.4 187.7 925.1 190.1C927.7 192.4 927.7 197.9 930.3 200.3C933.0 202.6 937.9 201.2 940.9 204.2C944.0 207.2 947.0 213.8 948.8 218.2C950.5 222.7 950.1 227.6 951.4 231.0C952.8 234.4 955.8 235.8 956.7 238.8C957.6 241.8 956.8 245.9 956.7 249.0C956.6 252.2 957.2 254.3 956.0 257.6C954.8 260.9 952.3 266.6 949.3 268.7C946.3 270.8 941.7 269.4 938.0 270.0C934.3 270.6 930.8 270.9 927.2 272.4C923.6 273.9 919.9 278.2 916.2 278.8C912.5 279.4 908.6 277.6 905.2 276.0C901.8 274.4 899.4 270.9 896.0 269.5C892.6 268.1 888.3 266.8 885.0 267.5C881.7 268.2 878.6 271.8 876.0 274.0C873.4 276.2 872.3 279.1 869.4 281.0C866.5 282.9 862.5 285.3 858.4 285.4C854.3 285.5 849.0 282.4 844.6 281.4C840.2 280.4 835.7 280.2 832.0 279.5C828.3 278.8 825.9 278.8 822.5 277.0C819.1 275.2 814.2 271.2 811.5 268.7C808.8 266.2 807.5 264.0 806.0 262.0C804.5 260.0 802.5 259.7 802.6 256.6Z" transform="translate(880 244) scale(0.97) translate(-880 -244)"/><circle cx="810.0" cy="255.4" r="8"/><circle cx="820.8" cy="234.7" r="8"/><circle cx="837.5" cy="220.7" r="8"/><circle cx="854.1" cy="213.7" r="8"/><circle cx="870.8" cy="211.4" r="8"/><circle cx="885.1" cy="201.0" r="8"/><circle cx="903.0" cy="197.5" r="8"/><circle cx="920.8" cy="195.2" r="8"/><circle cx="935.1" cy="208.0" r="8"/><circle cx="944.6" cy="232.2" r="8"/><circle cx="949.4" cy="248.5" r="8"/><circle cx="942.7" cy="266.4" r="8"/><circle cx="922.7" cy="269.7" r="8"/><circle cx="902.8" cy="273.0" r="8"/><circle cx="884.5" cy="265.3" r="8"/><circle cx="870.4" cy="277.5" r="8"/><circle cx="848.0" cy="277.8" r="8"/><circle cx="828.0" cy="273.9" r="8"/><circle cx="813.0" cy="260.3" r="8"/><circle cx="811.9" cy="243.9" r="5"/><circle cx="826.5" cy="224.8" r="5"/><circle cx="848.6" cy="222.4" r="5"/><circle cx="860.8" cy="208.1" r="5"/><circle cx="875.5" cy="203.3" r="5"/><circle cx="897.5" cy="202.2" r="5"/><circle cx="912.2" cy="190.3" r="5"/><circle cx="926.8" cy="203.3" r="5"/><circle cx="943.9" cy="220.0" r="5"/><circle cx="951.3" cy="239.2" r="5"/><circle cx="950.7" cy="256.6" r="5"/><circle cx="933.9" cy="268.2" r="5"/><circle cx="913.7" cy="276.4" r="5"/><circle cx="894.9" cy="267.7" r="5"/><circle cx="876.3" cy="271.9" r="5"/><circle cx="859.9" cy="282.5" r="5"/><circle cx="835.4" cy="277.0" r="5"/><circle cx="816.3" cy="267.0" r="5"/></g><g clip-path="url(#cldClip)"><ellipse cx="916" cy="214" rx="20" ry="22" fill="#a79fae" opacity="0.8" filter="url(#b4)"/><ellipse cx="838" cy="234" rx="24" ry="12" fill="#8a93b0" opacity="0.5" filter="url(#b4)"/><ellipse cx="880" cy="263" rx="20" ry="8" fill="#9a98ac" opacity="0.45" filter="url(#b4)"/><path d="M1001.0 47.0C994.0 50.5 976.9 59.0 965.6 67.0C954.4 75.0 936.6 90.0 926.0 100.0C915.4 110.0 902.4 124.2 894.7 134.0C887.1 143.8 879.8 156.2 875.0 165.0C870.2 173.8 865.5 185.7 863.0 193.0C860.5 200.3 857.7 207.7 858.0 214.0C858.3 220.3 861.9 229.2 865.0 235.0C868.1 240.8 874.2 247.8 879.0 252.7C883.8 257.6 889.8 265.0 896.7 267.4C903.6 269.8 916.1 268.9 925.0 268.5C933.9 268.1 942.3 268.1 955.7 265.0C969.1 261.9 1001.0 252.7 1014.6 248.0C1028.2 243.3 1038.2 238.5 1046.4 233.7C1054.6 228.9 1063.8 220.5 1069.4 216.0C1075.0 211.5 1083.8 205.9 1084.0 204.0C1084.2 202.1 1080.4 200.2 1071.0 203.6C1061.6 207.0 1038.9 221.7 1021.6 226.7C1004.3 231.7 970.0 236.0 955.7 237.0C941.4 238.0 933.5 236.1 926.0 233.5C918.5 230.9 909.9 225.5 905.5 220.0C901.1 214.5 897.4 204.8 896.7 196.6C896.0 188.3 897.9 173.8 900.6 165.0C903.3 156.2 908.2 147.4 914.4 138.0C920.6 128.6 933.1 111.5 942.0 102.0C950.9 92.5 964.0 82.3 973.5 75.0C983.0 67.7 999.2 57.6 1005.0 53.0C1010.8 48.4 1012.6 44.9 1012.0 44.0C1011.4 43.1 1008.0 43.5 1001.0 47.0Z" fill="#ffffff" opacity="0.22"/></g><text x="880.4" y="255.4" text-anchor="middle" font-size="22.4" font-weight="bold" textLength="130" lengthAdjust="spacingAndGlyphs" fill="#d9d9e2" opacity="0.7" transform="translate(0.8,0.9)">SDH/PDH/ATM</text><text x="880.4" y="255.4" text-anchor="middle" font-size="22.4" font-weight="bold" textLength="130" lengthAdjust="spacingAndGlyphs" fill="#2a2a30" filter="url(#soft)">SDH/PDH/ATM</text>
<g transform="translate(0,0)" filter="url(#b05)"><path d="M1719.4 140.4L1723.2 141.6L1724.2 148.6L1720 147.4Z" fill="#30353a"/><path d="M1690 113.5L1727.6 121.6Q1728.4 122.6 1728 124L1716.6 160.6Q1716 162 1714.4 161.6L1677 152.6Q1675 151.6 1675.6 149.8Z" fill="#24282b"/><path d="M1685.5 111.8Q1690.5 108.6 1695.5 110.6Q1699 112.6 1697.6 116.4L1687.6 149.6Q1685.6 153.6 1681 152.8Q1675.6 151.4 1675.6 147Q1676 144 1677.6 140L1684 116Q1684.4 113 1685.5 111.8Z" fill="#1b1e21"/><path d="M1694.8 113.6L1685.4 147" stroke="#3c4246" stroke-width="1.4" fill="none" opacity="0.8"/><path d="M1701.4 118.8L1722 123.2Q1723 123.6 1722.6 124.8L1720.2 132.6Q1719.8 133.6 1718.6 133.4L1698.8 129.2Q1698 128.8 1698.2 127.8Z" fill="#dfe2e0"/><path d="M1703.4 121.9L1719.2 125.3L1718 129.1L1702.2 125.7Z" fill="#84a48c"/><path d="M1701.6 128.0L1704.6 128.6L1704.2 130.0L1701.2 129.4ZM1707 129.2L1710 129.8L1709.6 131.2L1706.6 130.6ZM1712.4 130.4L1715.4 131L1715 132.4L1712 131.8Z" fill="#4a86c0"/><path d="M1694.6 137.0l3.4 0.75l-0.45 1.7l-3.4 -0.75Z" fill="#3b86c2"/><path d="M1700.0 138.2l3.4 0.75l-0.45 1.7l-3.4 -0.75Z" fill="#3b86c2"/><path d="M1705.4 139.3l3.4 0.75l-0.45 1.7l-3.4 -0.75Z" fill="#3b86c2"/><path d="M1693.5 140.3l3.4 0.75l-0.45 1.7l-3.4 -0.75Z" fill="#3b86c2"/><path d="M1698.9 141.5l3.4 0.75l-0.45 1.7l-3.4 -0.75Z" fill="#3b86c2"/><path d="M1704.3 142.7l3.4 0.75l-0.45 1.7l-3.4 -0.75Z" fill="#3b86c2"/><path d="M1692.4 143.7l3.4 0.75l-0.45 1.7l-3.4 -0.75Z" fill="#3b86c2"/><path d="M1697.8 144.8l3.4 0.75l-0.45 1.7l-3.4 -0.75Z" fill="#3b86c2"/><path d="M1703.2 146.0l3.4 0.75l-0.45 1.7l-3.4 -0.75Z" fill="#3b86c2"/><path d="M1691.3 147.1l3.4 0.75l-0.45 1.7l-3.4 -0.75Z" fill="#3b86c2"/><path d="M1696.7 148.2l3.4 0.75l-0.45 1.7l-3.4 -0.75Z" fill="#3b86c2"/><path d="M1702.1 149.4l3.4 0.75l-0.45 1.7l-3.4 -0.75Z" fill="#3b86c2"/><path d="M1690.2 150.4l3.4 0.75l-0.45 1.7l-3.4 -0.75Z" fill="#3b86c2"/><path d="M1695.6 151.6l3.4 0.75l-0.45 1.7l-3.4 -0.75Z" fill="#3b86c2"/><path d="M1701.0 152.7l3.4 0.75l-0.45 1.7l-3.4 -0.75Z" fill="#3b86c2"/><path d="M1712.8 140.2l3.6 0.8l-0.4 1.5l-3.6 -0.8Z" fill="#3b7fb4"/><path d="M1711.7 143.8l3.6 0.8l-0.4 1.5l-3.6 -0.8Z" fill="#46525d"/><path d="M1710.6 147.4l3.6 0.8l-0.4 1.5l-3.6 -0.8Z" fill="#3b7fb4"/><path d="M1709.5 151.0l3.6 0.8l-0.4 1.5l-3.6 -0.8Z" fill="#46525d"/><path d="M1708.4 154.6l3.6 0.8l-0.4 1.5l-3.6 -0.8Z" fill="#46525d"/><path d="M1697.2 132.6l2.8 0.6l-0.35 1.4l-2.8-0.6ZM1702.4 133.8l2.8 0.6l-0.35 1.4l-2.8-0.6ZM1707.6 135l2.8 0.6l-0.35 1.4l-2.8-0.6Z" fill="#6a6f74"/><path d="M1679 152.2Q1672 149.6 1667 151.2Q1664 153 1666.2 155.6Q1670 157.6 1676.6 158.4" fill="none" stroke="#1d2023" stroke-width="3.1" stroke-linecap="round"/></g>
<g transform="translate(0,229)" filter="url(#b05)"><path d="M1719.4 140.4L1723.2 141.6L1724.2 148.6L1720 147.4Z" fill="#30353a"/><path d="M1690 113.5L1727.6 121.6Q1728.4 122.6 1728 124L1716.6 160.6Q1716 162 1714.4 161.6L1677 152.6Q1675 151.6 1675.6 149.8Z" fill="#24282b"/><path d="M1685.5 111.8Q1690.5 108.6 1695.5 110.6Q1699 112.6 1697.6 116.4L1687.6 149.6Q1685.6 153.6 1681 152.8Q1675.6 151.4 1675.6 147Q1676 144 1677.6 140L1684 116Q1684.4 113 1685.5 111.8Z" fill="#1b1e21"/><path d="M1694.8 113.6L1685.4 147" stroke="#3c4246" stroke-width="1.4" fill="none" opacity="0.8"/><path d="M1701.4 118.8L1722 123.2Q1723 123.6 1722.6 124.8L1720.2 132.6Q1719.8 133.6 1718.6 133.4L1698.8 129.2Q1698 128.8 1698.2 127.8Z" fill="#dfe2e0"/><path d="M1703.4 121.9L1719.2 125.3L1718 129.1L1702.2 125.7Z" fill="#84a48c"/><path d="M1701.6 128.0L1704.6 128.6L1704.2 130.0L1701.2 129.4ZM1707 129.2L1710 129.8L1709.6 131.2L1706.6 130.6ZM1712.4 130.4L1715.4 131L1715 132.4L1712 131.8Z" fill="#4a86c0"/><path d="M1694.6 137.0l3.4 0.75l-0.45 1.7l-3.4 -0.75Z" fill="#3b86c2"/><path d="M1700.0 138.2l3.4 0.75l-0.45 1.7l-3.4 -0.75Z" fill="#3b86c2"/><path d="M1705.4 139.3l3.4 0.75l-0.45 1.7l-3.4 -0.75Z" fill="#3b86c2"/><path d="M1693.5 140.3l3.4 0.75l-0.45 1.7l-3.4 -0.75Z" fill="#3b86c2"/><path d="M1698.9 141.5l3.4 0.75l-0.45 1.7l-3.4 -0.75Z" fill="#3b86c2"/><path d="M1704.3 142.7l3.4 0.75l-0.45 1.7l-3.4 -0.75Z" fill="#3b86c2"/><path d="M1692.4 143.7l3.4 0.75l-0.45 1.7l-3.4 -0.75Z" fill="#3b86c2"/><path d="M1697.8 144.8l3.4 0.75l-0.45 1.7l-3.4 -0.75Z" fill="#3b86c2"/><path d="M1703.2 146.0l3.4 0.75l-0.45 1.7l-3.4 -0.75Z" fill="#3b86c2"/><path d="M1691.3 147.1l3.4 0.75l-0.45 1.7l-3.4 -0.75Z" fill="#3b86c2"/><path d="M1696.7 148.2l3.4 0.75l-0.45 1.7l-3.4 -0.75Z" fill="#3b86c2"/><path d="M1702.1 149.4l3.4 0.75l-0.45 1.7l-3.4 -0.75Z" fill="#3b86c2"/><path d="M1690.2 150.4l3.4 0.75l-0.45 1.7l-3.4 -0.75Z" fill="#3b86c2"/><path d="M1695.6 151.6l3.4 0.75l-0.45 1.7l-3.4 -0.75Z" fill="#3b86c2"/><path d="M1701.0 152.7l3.4 0.75l-0.45 1.7l-3.4 -0.75Z" fill="#3b86c2"/><path d="M1712.8 140.2l3.6 0.8l-0.4 1.5l-3.6 -0.8Z" fill="#3b7fb4"/><path d="M1711.7 143.8l3.6 0.8l-0.4 1.5l-3.6 -0.8Z" fill="#46525d"/><path d="M1710.6 147.4l3.6 0.8l-0.4 1.5l-3.6 -0.8Z" fill="#3b7fb4"/><path d="M1709.5 151.0l3.6 0.8l-0.4 1.5l-3.6 -0.8Z" fill="#46525d"/><path d="M1708.4 154.6l3.6 0.8l-0.4 1.5l-3.6 -0.8Z" fill="#46525d"/><path d="M1697.2 132.6l2.8 0.6l-0.35 1.4l-2.8-0.6ZM1702.4 133.8l2.8 0.6l-0.35 1.4l-2.8-0.6ZM1707.6 135l2.8 0.6l-0.35 1.4l-2.8-0.6Z" fill="#6a6f74"/><path d="M1679 152.2Q1672 149.6 1667 151.2Q1664 153 1666.2 155.6Q1670 157.6 1676.6 158.4" fill="none" stroke="#1d2023" stroke-width="3.1" stroke-linecap="round"/></g>
<g stroke="#2d2d2d" stroke-width="5.5" stroke-dasharray="5.5 6.3100000000000005" fill="none" filter="url(#soft)"><path d="M50.32 31.8H729.00"/><path d="M52.05 504.6H730.73"/><path d="M33.3 53.45V484.12"/><path d="M748 51.85V482.52"/></g><g fill="#2d2d2d" filter="url(#soft)"><rect x="-2.75" y="-2.75" width="5.5" height="5.5" transform="translate(42,35.4) rotate(-34.6)"/><rect x="-2.75" y="-2.75" width="5.5" height="5.5" transform="translate(35.3,44.4) rotate(-67.7)"/><rect x="-2.75" y="-2.75" width="5.5" height="5.5" transform="translate(36.1,493.2) rotate(243.4)"/><rect x="-2.75" y="-2.75" width="5.5" height="5.5" transform="translate(43.4,501.9) rotate(209.8)"/><rect x="-2.75" y="-2.75" width="5.5" height="5.5" transform="translate(739.3,500.9) rotate(145.3)"/><rect x="-2.75" y="-2.75" width="5.5" height="5.5" transform="translate(746.2,491.6) rotate(111.0)"/><rect x="-2.75" y="-2.75" width="5.5" height="5.5" transform="translate(738,34.2) rotate(29.6)"/><rect x="-2.75" y="-2.75" width="5.5" height="5.5" transform="translate(745.4,43.3) rotate(64.0)"/></g>
<g stroke="#2d2d2d" stroke-width="5.5" stroke-dasharray="5.5 6.3100000000000005" fill="none" filter="url(#soft)"><path d="M1019.45 31.8H1816.23"/><path d="M1021.75 504.6H1818.53"/><path d="M1000 51.85V482.52"/><path d="M1836.6 51.35V482.02"/></g><g fill="#2d2d2d" filter="url(#soft)"><rect x="-2.75" y="-2.75" width="5.5" height="5.5" transform="translate(1011,35) rotate(-28.2)"/><rect x="-2.75" y="-2.75" width="5.5" height="5.5" transform="translate(1003.3,43.3) rotate(-63.0)"/><rect x="-2.75" y="-2.75" width="5.5" height="5.5" transform="translate(1002.6,491.3) rotate(248.9)"/><rect x="-2.75" y="-2.75" width="5.5" height="5.5" transform="translate(1009.7,500.4) rotate(213.1)"/><rect x="-2.75" y="-2.75" width="5.5" height="5.5" transform="translate(1834.7,491) rotate(109.5)"/><rect x="-2.75" y="-2.75" width="5.5" height="5.5" transform="translate(1827.3,500.1) rotate(145.4)"/><rect x="-2.75" y="-2.75" width="5.5" height="5.5" transform="translate(1825.2,34.4) rotate(26.3)"/><rect x="-2.75" y="-2.75" width="5.5" height="5.5" transform="translate(1833.4,42.8) rotate(61.8)"/></g>
<path d="M145 250.9H276" stroke="#1c1c1c" stroke-width="2.2" fill="none"/>
<path d="M1481 233.9H1532V138.8H1661" stroke="#1c1c1c" stroke-width="2.2" fill="none"/>
<path d="M1481 268.4H1532V364.1H1661" stroke="#1c1c1c" stroke-width="2.2" fill="none"/>
<path d="M700.3 246.8H797.8M966 246.8H1057" stroke="#302b2b" stroke-width="8.3" fill="none"/>
<path d="M1703.3 162.4V339" stroke="#222" stroke-width="2.2" stroke-dasharray="2.2 2.5" fill="none"/>
<g filter="url(#soft)">
<g font-family="Liberation Serif, serif" fill="#303030" opacity="1" ><text transform="translate(169.30,247.00) scale(0.864,1)" text-anchor="middle" font-size="27.79">1</text><text transform="translate(184.55,247.00) scale(0.864,1)" text-anchor="middle" font-size="27.79">6</text><text transform="translate(199.80,251.58) scale(1.0,1)" text-anchor="middle" font-size="31.12">*</text><text transform="translate(215.05,247.00) scale(0.777,1)" text-anchor="middle" font-size="27.79">F</text><text transform="translate(230.30,247.00) scale(0.598,1)" text-anchor="middle" font-size="27.79">X</text><text transform="translate(245.55,247.00) scale(0.598,1)" text-anchor="middle" font-size="27.79">O</text></g>
<g font-family="Liberation Serif, serif" fill="#303030" opacity="1" ><text transform="translate(349.30,312.60) scale(0.888,1)" text-anchor="middle" font-size="27.02">1</text><text transform="translate(364.39,312.60) scale(0.888,1)" text-anchor="middle" font-size="27.02">6</text><text transform="translate(379.48,317.06) scale(1.0,1)" text-anchor="middle" font-size="30.27">*</text><text transform="translate(394.57,312.60) scale(0.615,1)" text-anchor="middle" font-size="27.02">V</text><text transform="translate(409.66,312.60) scale(0.888,1)" text-anchor="middle" font-size="27.02">o</text><text transform="translate(424.75,312.60) scale(0.920,1)" text-anchor="middle" font-size="27.02">i</text><text transform="translate(439.84,312.60) scale(0.920,1)" text-anchor="middle" font-size="27.02">c</text><text transform="translate(454.93,312.60) scale(0.920,1)" text-anchor="middle" font-size="27.02">e</text><text transform="translate(479.30,312.60) scale(0.727,1)" text-anchor="middle" font-size="27.02">E</text><text transform="translate(495.30,312.60) scale(0.888,1)" text-anchor="middle" font-size="27.02">1</text><text transform="translate(520.20,312.60) scale(0.499,1)" text-anchor="middle" font-size="27.02">M</text><text transform="translate(535.40,312.60) scale(0.615,1)" text-anchor="middle" font-size="27.02">U</text><text transform="translate(550.60,312.60) scale(0.615,1)" text-anchor="middle" font-size="27.02">X</text><text transform="translate(573.80,308.44) scale(1.1,1)" text-anchor="middle" font-size="21.35">(</text><text transform="translate(586.80,312.60) scale(0.798,1)" text-anchor="middle" font-size="27.02">F</text><text transform="translate(602.60,312.60) scale(0.615,1)" text-anchor="middle" font-size="27.02">X</text><text transform="translate(618.40,312.60) scale(0.615,1)" text-anchor="middle" font-size="27.02">O</text><text transform="translate(631.70,308.44) scale(1.1,1)" text-anchor="middle" font-size="21.35">)</text></g>
<g font-family="Liberation Serif, serif" fill="#303030" opacity="1" ><text transform="translate(1165.30,312.60) scale(0.888,1)" text-anchor="middle" font-size="27.02">1</text><text transform="translate(1180.39,312.60) scale(0.888,1)" text-anchor="middle" font-size="27.02">6</text><text transform="translate(1195.48,317.06) scale(1.0,1)" text-anchor="middle" font-size="30.27">*</text><text transform="translate(1210.57,312.60) scale(0.615,1)" text-anchor="middle" font-size="27.02">V</text><text transform="translate(1225.66,312.60) scale(0.888,1)" text-anchor="middle" font-size="27.02">o</text><text transform="translate(1240.75,312.60) scale(0.920,1)" text-anchor="middle" font-size="27.02">i</text><text transform="translate(1255.84,312.60) scale(0.920,1)" text-anchor="middle" font-size="27.02">c</text><text transform="translate(1270.93,312.60) scale(0.920,1)" text-anchor="middle" font-size="27.02">e</text><text transform="translate(1295.30,312.60) scale(0.727,1)" text-anchor="middle" font-size="27.02">E</text><text transform="translate(1311.30,312.60) scale(0.888,1)" text-anchor="middle" font-size="27.02">1</text><text transform="translate(1336.20,312.60) scale(0.499,1)" text-anchor="middle" font-size="27.02">M</text><text transform="translate(1351.40,312.60) scale(0.615,1)" text-anchor="middle" font-size="27.02">U</text><text transform="translate(1366.60,312.60) scale(0.615,1)" text-anchor="middle" font-size="27.02">X</text><text transform="translate(1389.80,308.44) scale(1.1,1)" text-anchor="middle" font-size="21.35">(</text><text transform="translate(1402.80,312.60) scale(0.798,1)" text-anchor="middle" font-size="27.02">F</text><text transform="translate(1418.60,312.60) scale(0.615,1)" text-anchor="middle" font-size="27.02">X</text><text transform="translate(1434.40,312.60) scale(0.798,1)" text-anchor="middle" font-size="27.02">S</text><text transform="translate(1447.70,308.44) scale(1.1,1)" text-anchor="middle" font-size="21.35">)</text></g>
<g font-family="Liberation Serif, serif" fill="#303030" opacity="1" ><text transform="translate(1595.70,134.90) scale(0.798,1)" text-anchor="middle" font-size="27.02">F</text><text transform="translate(1610.90,134.90) scale(0.615,1)" text-anchor="middle" font-size="27.02">X</text><text transform="translate(1626.10,134.90) scale(0.798,1)" text-anchor="middle" font-size="27.02">S</text></g>
<g font-family="Liberation Serif, serif" fill="#303030" opacity="1" ><text transform="translate(1595.70,358.60) scale(0.798,1)" text-anchor="middle" font-size="27.02">F</text><text transform="translate(1610.90,358.60) scale(0.615,1)" text-anchor="middle" font-size="27.02">X</text><text transform="translate(1626.10,358.60) scale(0.798,1)" text-anchor="middle" font-size="27.02">S</text></g>
<g font-family="Liberation Serif, serif" fill="#303030" opacity="1" ><text transform="translate(1736.10,146.50) scale(0.686,1)" text-anchor="middle" font-size="26.72">P</text><text transform="translate(1750.72,146.50) scale(0.898,1)" text-anchor="middle" font-size="26.72">h</text><text transform="translate(1765.84,146.50) scale(0.898,1)" text-anchor="middle" font-size="26.72">o</text><text transform="translate(1780.96,146.50) scale(0.898,1)" text-anchor="middle" font-size="26.72">n</text><text transform="translate(1796.08,146.50) scale(0.920,1)" text-anchor="middle" font-size="26.72">e</text><text transform="translate(1811.20,146.50) scale(0.898,1)" text-anchor="middle" font-size="26.72">1</text></g>
<g font-family="Liberation Serif, serif" fill="#303030" opacity="1" ><text transform="translate(1736.00,375.60) scale(0.686,1)" text-anchor="middle" font-size="26.72">P</text><text transform="translate(1750.23,375.60) scale(0.898,1)" text-anchor="middle" font-size="26.72">h</text><text transform="translate(1765.36,375.60) scale(0.898,1)" text-anchor="middle" font-size="26.72">o</text><text transform="translate(1780.49,375.60) scale(0.898,1)" text-anchor="middle" font-size="26.72">n</text><text transform="translate(1795.62,375.60) scale(0.920,1)" text-anchor="middle" font-size="26.72">e</text><text transform="translate(1810.75,375.60) scale(0.898,1)" text-anchor="middle" font-size="26.72">1</text><text transform="translate(1825.88,375.60) scale(0.898,1)" text-anchor="middle" font-size="26.72">6</text></g>
<rect x="1727.8" y="127" width="4" height="21" fill="#fefefe"/><rect x="1731.8" y="127" width="1.8" height="21" fill="#fefefe" opacity="0.55"/>
<rect x="1727.8" y="356" width="4" height="21" fill="#fefefe"/><rect x="1731.8" y="356" width="1.8" height="21" fill="#fefefe" opacity="0.55"/>
<text x="75.3" y="332.7" font-size="32.4" style="font-family:'Liberation Sans',sans-serif" fill="#262626">P</text>
<g font-family="Liberation Serif, serif" fill="#303030" opacity="1" ><text transform="translate(105.50,332.40) scale(0.672,1)" text-anchor="middle" font-size="32.37">B</text><text transform="translate(124.50,332.40) scale(0.620,1)" text-anchor="middle" font-size="32.37">X</text></g>
<text transform="translate(527.2,484) scale(0.76,1)" font-size="31.8" style="font-family:'Liberation Sans',sans-serif" fill="#b52b23" stroke="#b52b23" stroke-width="0.7">C</text>
<g font-family="Liberation Serif, serif" fill="#b52b23" opacity="1" ><text transform="translate(554.50,483.40) scale(0.920,1)" text-anchor="middle" font-size="31.30">e</text><text transform="translate(572.00,483.40) scale(0.844,1)" text-anchor="middle" font-size="31.30">n</text><text transform="translate(589.50,483.40) scale(0.920,1)" text-anchor="middle" font-size="31.30">t</text><text transform="translate(607.00,483.40) scale(0.920,1)" text-anchor="middle" font-size="31.30">e</text><text transform="translate(624.50,483.40) scale(0.920,1)" text-anchor="middle" font-size="31.30">r</text><text transform="translate(653.90,483.40) scale(0.584,1)" text-anchor="middle" font-size="31.30">V</text><text transform="translate(671.55,483.40) scale(0.920,1)" text-anchor="middle" font-size="31.30">e</text><text transform="translate(689.20,483.40) scale(0.844,1)" text-anchor="middle" font-size="31.30">n</text><text transform="translate(706.85,483.40) scale(0.844,1)" text-anchor="middle" font-size="31.30">u</text><text transform="translate(724.50,483.40) scale(0.920,1)" text-anchor="middle" font-size="31.30">e</text></g>
<text transform="translate(1017.4,492.3) scale(0.86,1)" font-size="30.8" style="font-family:'Liberation Sans',sans-serif" fill="#b52b23" stroke="#b52b23" stroke-width="0.5">U</text>
<g font-family="Liberation Serif, serif" fill="#b52b23" opacity="1" ><text transform="translate(1046.00,492.60) scale(0.920,1)" text-anchor="middle" font-size="30.53">s</text><text transform="translate(1063.50,492.60) scale(0.920,1)" text-anchor="middle" font-size="30.53">e</text><text transform="translate(1081.00,492.60) scale(0.920,1)" text-anchor="middle" font-size="30.53">r</text><text transform="translate(1111.00,492.60) scale(0.599,1)" text-anchor="middle" font-size="30.53">V</text><text transform="translate(1128.60,492.60) scale(0.920,1)" text-anchor="middle" font-size="30.53">e</text><text transform="translate(1146.20,492.60) scale(0.865,1)" text-anchor="middle" font-size="30.53">n</text><text transform="translate(1163.80,492.60) scale(0.865,1)" text-anchor="middle" font-size="30.53">u</text><text transform="translate(1181.40,492.60) scale(0.920,1)" text-anchor="middle" font-size="30.53">e</text></g>
</g>
</svg>
</body></html>
